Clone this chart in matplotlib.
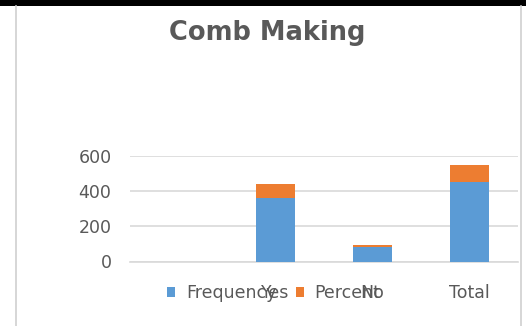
import matplotlib
matplotlib.use("Agg")
import matplotlib.pyplot as plt
from matplotlib.patches import Rectangle, Patch
from matplotlib.lines import Line2D
import numpy as np

categories = ["", "Yes", "No", "Total"]
frequency = [0, 360, 82, 452]
percent = [0, 83, 14, 97]
series_names = ["Frequency", "Percent"]
yticks = [0, 200, 400, 600]

BLUE = "#5B9BD5"
ORANGE = "#ED7D31"
TEXT = "#595959"
GRID = "#D9D9D9"

plt.rcParams["font.family"] = ["DejaVu Sans"]

W, H = 526, 326
fig = plt.figure(figsize=(W / 100, H / 100), dpi=100)
fig.patch.set_facecolor("white")

ax = fig.add_axes([129.5 / W, (H - 261.5) / H, (518 - 129.5) / W, (261.5 - 156) / H])
x = np.arange(len(categories))
ax.bar(x, frequency, width=0.4, color=BLUE, zorder=3)
ax.bar(x, percent, width=0.4, bottom=frequency, color=ORANGE, zorder=3)

ax.set_xlim(-0.5, len(categories) - 0.5)
ax.set_ylim(0, 600)
ax.set_yticks(yticks)
ax.set_yticklabels([str(v) for v in yticks])
ax.set_xticks(x)
ax.set_xticklabels(categories)
ax.grid(axis="y", color=GRID, linewidth=1.2, zorder=0)
for s in ["top", "right", "left"]:
    ax.spines[s].set_visible(False)
ax.spines["bottom"].set_color(GRID)
ax.spines["bottom"].set_linewidth(1.2)
ax.tick_params(axis="y", length=0, pad=13, labelsize=12.5, labelcolor=TEXT)
ax.tick_params(axis="x", length=0, pad=16, labelsize=12.5, labelcolor=TEXT)

fig.text(267 / W, (H - 40) / H, "Comb Making", ha="center", va="baseline",
         fontsize=18.5, fontweight="bold", color=TEXT)

handles = [Patch(facecolor=BLUE), Patch(facecolor=ORANGE)]
fig.legend(handles, series_names, loc="center left", bbox_to_anchor=(167 / W, (H - 293) / H),
           ncol=2, frameon=False, fontsize=12.5, labelcolor=TEXT, borderpad=0,
           borderaxespad=0, handlelength=0.46, handleheight=0.46,
           handletextpad=0.64, columnspacing=1.1)

# frame decorations
fig.add_artist(Rectangle((0, (H - 6) / H), 1, 6 / H, transform=fig.transFigure,
                         facecolor="black", edgecolor="none"))
fig.add_artist(Line2D([16 / W, 16 / W], [0, (H - 6) / H], transform=fig.transFigure,
                      color="#D0D0D0", linewidth=1.2))
fig.add_artist(Line2D([521 / W, 521 / W], [0, (H - 6) / H], transform=fig.transFigure,
                      color="#D0D0D0", linewidth=1.2))

fig.savefig("out.png", dpi=100, facecolor="white")
